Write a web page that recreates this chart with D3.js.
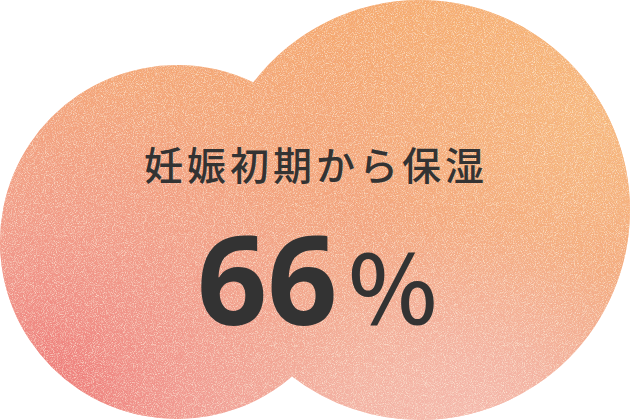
<!DOCTYPE html>
<html>
<head>
<meta charset="utf-8">
<script src="https://cdn.jsdelivr.net/npm/d3@7/dist/d3.min.js"></script>
<style>
  html, body { margin: 0; padding: 0; background: #ffffff; }
  svg { display: block; }
</style>
</head>
<body>
<svg id="chart" width="630" height="420"></svg>
<script>
// ---- data ----
const headline = ["妊娠初期から保湿"];
const values = [66];
const units = ["％"];
const bubbleNames = ["left", "right"];
const bubbleSizes = [177, 210];

// ---- layout ----
const W = 630, H = 420;
const svg = d3.select("#chart");
const defs = svg.append("defs");

const rScale = d3.scaleLinear().domain([0, 210]).range([0, 210]);
const layout = {
  left:  { cx: 177, cy: 242 },
  right: { cx: 420, cy: 210 }
};

// base gradient: orange top -> pinkish bottom
const g1 = defs.append("linearGradient").attr("id", "base")
  .attr("gradientUnits", "userSpaceOnUse")
  .attr("x1", 380).attr("y1", 0).attr("x2", 300).attr("y2", 420);
g1.append("stop").attr("offset", 0).attr("stop-color", "#f6aa6c");
g1.append("stop").attr("offset", 0.5).attr("stop-color", "#f3a47c");
g1.append("stop").attr("offset", 1).attr("stop-color", "#f3b2a4");

// red at bottom-left
const g2 = defs.append("radialGradient").attr("id", "redspot")
  .attr("gradientUnits", "userSpaceOnUse")
  .attr("cx", 40).attr("cy", 400).attr("r", 330);
g2.append("stop").attr("offset", 0).attr("stop-color", "#ee7070").attr("stop-opacity", 0.95);
g2.append("stop").attr("offset", 0.55).attr("stop-color", "#f08a84").attr("stop-opacity", 0.45);
g2.append("stop").attr("offset", 1).attr("stop-color", "#f29a8c").attr("stop-opacity", 0);

// light warm at top-right
const g3 = defs.append("radialGradient").attr("id", "lightspot")
  .attr("gradientUnits", "userSpaceOnUse")
  .attr("cx", 600).attr("cy", 120).attr("r", 260);
g3.append("stop").attr("offset", 0).attr("stop-color", "#f8c080").attr("stop-opacity", 0.7);
g3.append("stop").attr("offset", 1).attr("stop-color", "#f8c080").attr("stop-opacity", 0);

// pale pink at bottom-right
const g4 = defs.append("radialGradient").attr("id", "palespot")
  .attr("gradientUnits", "userSpaceOnUse")
  .attr("cx", 470).attr("cy", 420).attr("r", 200);
g4.append("stop").attr("offset", 0).attr("stop-color", "#f6bdb2").attr("stop-opacity", 0.8);
g4.append("stop").attr("offset", 1).attr("stop-color", "#f6bdb2").attr("stop-opacity", 0);

// clip path of the two bubbles
const clip = defs.append("clipPath").attr("id", "bubbles");
clip.selectAll("circle").data(bubbleNames).join("circle")
  .attr("cx", d => layout[d].cx)
  .attr("cy", d => layout[d].cy)
  .attr("r", (d, i) => rScale(bubbleSizes[i]));

// grain filters (light and dark specks)
function grain(id, seed, rgb, slope, offset) {
  const f = defs.append("filter").attr("id", id)
    .attr("x", 0).attr("y", 0).attr("width", "100%").attr("height", "100%");
  f.append("feTurbulence").attr("type", "fractalNoise").attr("baseFrequency", 1.1)
    .attr("numOctaves", 2).attr("seed", seed).attr("result", "noise");
  f.append("feColorMatrix").attr("in", "noise").attr("type", "matrix")
    .attr("values", `0 0 0 0 ${rgb[0]}  0 0 0 0 ${rgb[1]}  0 0 0 0 ${rgb[2]}  ${slope} 0 0 0 ${offset}`)
    .attr("result", "spk");
  f.append("feComposite").attr("in", "spk").attr("in2", "SourceGraphic").attr("operator", "in");
}
grain("grainLight", 3, [1, 0.95, 0.8], 3.0, -1.35);
grain("grainDark", 11, [0.85, 0.4, 0.35], 3.0, -1.35);

const body = svg.append("g").attr("clip-path", "url(#bubbles)");
const layers = ["url(#base)", "url(#redspot)", "url(#lightspot)", "url(#palespot)"];
body.selectAll("rect.layer").data(layers).join("rect")
  .attr("class", "layer")
  .attr("x", 0).attr("y", 0).attr("width", W).attr("height", H)
  .attr("fill", d => d);
body.selectAll("rect.grain").data(["url(#grainLight)", "url(#grainDark)"]).join("rect")
  .attr("class", "grain")
  .attr("x", 0).attr("y", 0).attr("width", W).attr("height", H)
  .attr("fill", "#fff")
  .attr("filter", d => d)
  .attr("opacity", (d, i) => i ? 0.35 : 0.6);

// ---- text ----
svg.selectAll("text.headline").data(headline).join("text")
  .attr("class", "headline")
  .attr("x", 316).attr("y", 180)
  .attr("text-anchor", "middle")
  .attr("font-family", "'Noto Sans CJK JP', 'Noto Sans', sans-serif")
  .attr("font-size", 39)
  .attr("font-weight", 500)
  .attr("letter-spacing", 4)
  .attr("fill", "#333333")
  .text(d => d);

const val = svg.selectAll("text.value").data(values).join("text")
  .attr("class", "value")
  .attr("x", 197).attr("y", 325)
  .attr("font-family", "'Noto Sans', 'Open Sans', sans-serif")
  .attr("fill", "#333333");
val.append("tspan")
  .attr("font-size", 123).attr("font-weight", 700)
  .text(d => d3.format("d")(d));
val.append("tspan")
  .attr("dx", 8)
  .attr("font-family", "'Noto Sans CJK JP', sans-serif")
  .attr("font-size", 94).attr("font-weight", 500)
  .text(units[0]);
</script>
</body>
</html>
